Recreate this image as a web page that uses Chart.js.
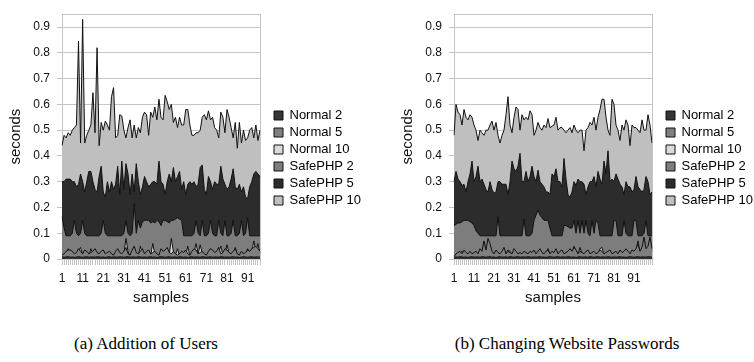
<!DOCTYPE html>
<html>
<head>
<meta charset="utf-8">
<script src="https://cdn.jsdelivr.net/npm/chart.js@4/dist/chart.umd.min.js"></script>
<style>
  html, body { margin: 0; padding: 0; background: #fff; }
  #wrap { position: relative; width: 754px; height: 362px; overflow: hidden; background: #fff; }
  canvas { position: absolute; top: 0; }
  #cA { left: 0; }
  #cB { left: 392px; }
  .cap { position: absolute; top: 334px; font-family: "Liberation Serif", "Times New Roman", serif; font-size: 17px; line-height: 20px; color: #000; text-align: center; white-space: nowrap; }
  #capA { left: 0; width: 292px; }
  #capB { left: 392px; width: 350px; }
</style>
</head>
<body>
<div id="wrap">
  <canvas id="cA" width="390" height="312"></canvas>
  <canvas id="cB" width="362" height="312"></canvas>
  <div class="cap" id="capA">(a) Addition of Users</div>
  <div class="cap" id="capB">(b) Changing Website Passwords</div>
</div>
<script>
// ---------- series names ----------
const seriesNames = ['Normal 2', 'Normal 5', 'Normal 10', 'SafePHP 2', 'SafePHP 5', 'SafePHP 10'];
const yTicks = [0, 0.1, 0.2, 0.3, 0.4, 0.5, 0.6, 0.7, 0.8, 0.9];

// ---------- (a) Addition of Users : 97 samples ----------
const samplesA = Array.from({ length: 97 }, (_, i) => String(i + 1));
const normal2A = [0.008,0.007,0.008,0.009,0.007,0.008,0.006,0.008,0.009,0.008,
  0.007,0.008,0.009,0.007,0.008,0.008,0.007,0.009,0.008,0.007,
  0.008,0.006,0.008,0.009,0.007,0.008,0.008,0.007,0.009,0.008,
  0.007,0.008,0.009,0.007,0.008,0.008,0.007,0.009,0.008,0.007,
  0.008,0.007,0.008,0.009,0.007,0.008,0.006,0.008,0.009,0.008,
  0.007,0.008,0.009,0.007,0.008,0.008,0.007,0.009,0.008,0.007,
  0.008,0.006,0.008,0.009,0.007,0.008,0.008,0.007,0.009,0.008,
  0.007,0.008,0.009,0.007,0.008,0.008,0.007,0.009,0.008,0.007,
  0.008,0.007,0.008,0.009,0.007,0.008,0.006,0.008,0.009,0.008,
  0.007,0.008,0.009,0.007,0.008,0.008,0.007];
const normal5A = [0.015,0.02,0.03,0.035,0.035,0.03,0.02,0.025,0.04,0.03,
  0.02,0.035,0.03,0.02,0.025,0.03,0.04,0.025,0.02,0.03,
  0.035,0.02,0.025,0.03,0.02,0.015,0.03,0.04,0.025,0.02,
  0.03,0.045,0.02,0.015,0.035,0.05,0.025,0.02,0.03,0.04,
  0.02,0.03,0.035,0.02,0.025,0.03,0.02,0.015,0.04,0.03,
  0.035,0.045,0.025,0.02,0.03,0.02,0.015,0.02,0.03,0.025,
  0.035,0.02,0.015,0.03,0.04,0.035,0.02,0.025,0.03,0.02,
  0.015,0.03,0.04,0.035,0.025,0.03,0.045,0.02,0.025,0.04,
  0.035,0.025,0.02,0.03,0.04,0.02,0.015,0.03,0.02,0.025,
  0.035,0.03,0.04,0.045,0.05,0.04,0.03];
const normal10A = [0.01,0.015,0.02,0.04,0.02,0.015,0.01,0.02,0.03,0.045,
  0.015,0.02,0.015,0.01,0.04,0.02,0.015,0.01,0.02,0.02,
  0.035,0.015,0.01,0.02,0.015,0.01,0.02,0.025,0.015,0.01,
  0.02,0.08,0.03,0.01,0.02,0.03,0.015,0.01,0.05,0.02,
  0.015,0.02,0.025,0.015,0.06,0.02,0.01,0.01,0.02,0.015,
  0.02,0.03,0.015,0.08,0.03,0.015,0.04,0.01,0.015,0.02,
  0.015,0.05,0.01,0.02,0.025,0.06,0.02,0.055,0.02,0.015,
  0.01,0.02,0.04,0.02,0.015,0.02,0.025,0.05,0.015,0.02,
  0.055,0.02,0.01,0.02,0.045,0.015,0.01,0.02,0.015,0.02,
  0.04,0.02,0.03,0.07,0.03,0.06,0.02];
const safe2A = [0.165,0.12,0.09,0.09,0.09,0.1,0.15,0.1,0.09,0.1,
  0.15,0.1,0.09,0.09,0.09,0.09,0.09,0.09,0.09,0.1,
  0.15,0.1,0.09,0.09,0.09,0.09,0.09,0.09,0.09,0.09,
  0.1,0.15,0.1,0.09,0.1,0.215,0.1,0.15,0.12,0.145,
  0.15,0.15,0.15,0.14,0.145,0.14,0.15,0.145,0.13,0.15,
  0.15,0.145,0.14,0.15,0.15,0.155,0.16,0.155,0.15,0.09,
  0.09,0.09,0.09,0.09,0.1,0.15,0.1,0.09,0.15,0.09,
  0.09,0.1,0.15,0.1,0.09,0.09,0.15,0.1,0.09,0.15,
  0.09,0.09,0.1,0.15,0.09,0.09,0.1,0.15,0.09,0.1,
  0.16,0.09,0.09,0.09,0.09,0.09,0.09];
const safe5A = [0.3,0.3,0.31,0.31,0.31,0.3,0.3,0.28,0.29,0.33,
  0.3,0.26,0.3,0.34,0.34,0.3,0.27,0.26,0.32,0.36,
  0.26,0.24,0.3,0.26,0.3,0.27,0.29,0.36,0.25,0.38,
  0.27,0.37,0.33,0.25,0.33,0.26,0.37,0.3,0.25,0.28,
  0.32,0.3,0.28,0.29,0.3,0.3,0.29,0.38,0.3,0.29,
  0.25,0.3,0.33,0.3,0.355,0.3,0.32,0.34,0.27,0.3,
  0.25,0.29,0.3,0.29,0.3,0.28,0.29,0.355,0.365,0.27,
  0.25,0.32,0.3,0.27,0.3,0.29,0.29,0.36,0.31,0.29,
  0.27,0.28,0.31,0.35,0.28,0.27,0.29,0.26,0.28,0.24,
  0.235,0.28,0.3,0.33,0.34,0.33,0.32];
const safe10A = [0.44,0.48,0.47,0.49,0.48,0.5,0.51,0.52,0.845,0.45,
  0.93,0.45,0.48,0.5,0.52,0.645,0.49,0.82,0.44,0.53,
  0.5,0.535,0.52,0.5,0.63,0.665,0.47,0.48,0.56,0.555,
  0.5,0.47,0.51,0.54,0.47,0.52,0.47,0.51,0.49,0.55,
  0.57,0.56,0.48,0.57,0.55,0.59,0.54,0.62,0.55,0.54,
  0.635,0.61,0.58,0.6,0.53,0.55,0.51,0.55,0.52,0.52,
  0.58,0.58,0.52,0.48,0.48,0.49,0.49,0.5,0.55,0.56,
  0.54,0.575,0.54,0.55,0.51,0.5,0.47,0.57,0.55,0.49,
  0.58,0.55,0.51,0.47,0.53,0.43,0.53,0.45,0.5,0.46,
  0.47,0.5,0.51,0.47,0.52,0.46,0.5];

// ---------- (b) Changing Website Passwords : 100 samples ----------
const samplesB = Array.from({ length: 100 }, (_, i) => String(i + 1));
const normal2B = [0.007,0.008,0.007,0.009,0.008,0.007,0.008,0.006,0.008,0.009,
  0.007,0.008,0.008,0.007,0.009,0.008,0.007,0.008,0.009,0.007,
  0.008,0.006,0.008,0.009,0.007,0.008,0.008,0.007,0.009,0.008,
  0.007,0.008,0.009,0.007,0.008,0.008,0.007,0.009,0.008,0.007,
  0.008,0.007,0.008,0.009,0.007,0.008,0.006,0.008,0.009,0.008,
  0.007,0.008,0.009,0.007,0.008,0.008,0.007,0.009,0.008,0.007,
  0.008,0.006,0.008,0.009,0.007,0.008,0.008,0.007,0.009,0.008,
  0.007,0.008,0.009,0.007,0.008,0.008,0.007,0.009,0.008,0.007,
  0.008,0.007,0.008,0.009,0.007,0.008,0.006,0.008,0.009,0.008,
  0.007,0.008,0.009,0.007,0.008,0.008,0.007,0.009,0.008,0.007];
const normal5B = [0.01,0.02,0.025,0.03,0.02,0.035,0.025,0.02,0.03,0.02,
  0.025,0.03,0.02,0.04,0.03,0.07,0.035,0.08,0.06,0.03,
  0.02,0.035,0.025,0.02,0.03,0.045,0.02,0.03,0.025,0.02,
  0.04,0.03,0.02,0.025,0.02,0.03,0.025,0.02,0.03,
  0.025,0.035,0.02,0.03,0.04,0.025,0.02,0.03,0.035,0.02,
  0.03,0.025,0.04,0.02,0.03,0.035,0.02,0.025,0.03,0.04,
  0.03,0.045,0.035,0.02,0.03,0.025,0.02,0.03,0.035,
  0.02,0.025,0.03,0.02,0.025,0.035,0.03,0.02,0.025,0.03,
  0.035,0.02,0.025,0.03,0.02,0.035,0.025,0.03,0.04,0.03,
  0.02,0.035,0.03,0.04,0.06,0.03,0.045,0.085,0.04,0.05,
  0.085,0.04];
const normal10B = [0.005,0.015,0.02,0.02,0.03,0.015,0.02,0.015,0.02,0.015,
  0.02,0.02,0.015,0.025,0.02,0.065,0.02,0.06,0.03,0.02,
  0.015,0.02,0.02,0.015,0.02,0.025,0.02,0.035,0.03,0.015,
  0.03,0.02,0.015,0.02,0.015,0.02,0.015,0.02,0.02,
  0.02,0.025,0.015,0.02,0.025,0.02,0.015,0.02,0.04,0.02,
  0.02,0.02,0.03,0.015,0.02,0.025,0.015,0.02,0.025,0.03,
  0.02,0.05,0.03,0.015,0.045,0.02,0.015,0.025,0.02,
  0.015,0.02,0.02,0.015,0.02,0.04,0.045,0.015,0.02,0.025,
  0.02,0.015,0.02,0.025,0.015,0.02,0.02,0.025,0.03,0.02,
  0.015,0.02,0.025,0.03,0.07,0.02,0.03,0.08,0.03,0.04,
  0.08,0.03];
const safe2B = [0.13,0.135,0.14,0.14,0.145,0.15,0.15,0.15,0.145,0.14,
  0.13,0.11,0.1,0.09,0.09,0.09,0.09,0.09,0.09,0.09,
  0.09,0.09,0.165,0.09,0.09,0.09,0.09,0.09,0.09,0.09,
  0.09,0.09,0.09,0.09,0.09,0.155,0.09,0.09,0.09,
  0.1,0.15,0.17,0.19,0.17,0.16,0.15,0.15,0.15,0.12,
  0.09,0.09,0.09,0.09,0.09,0.09,0.13,0.13,0.125,0.12,
  0.12,0.15,0.1,0.15,0.1,0.15,0.1,0.15,0.1,
  0.09,0.15,0.1,0.15,0.14,0.09,0.09,0.09,0.09,0.09,
  0.09,0.09,0.15,0.15,0.09,0.09,0.09,0.15,0.1,0.09,
  0.09,0.09,0.15,0.15,0.09,0.09,0.09,0.1,0.15,0.09,
  0.09,0.09];
const safe5B = [0.3,0.34,0.31,0.3,0.285,0.29,0.26,0.3,0.33,0.38,
  0.3,0.32,0.36,0.3,0.31,0.29,0.27,0.26,0.3,0.27,
  0.255,0.26,0.3,0.3,0.29,0.29,0.29,0.25,0.3,0.38,
  0.35,0.34,0.36,0.41,0.3,0.3,0.34,0.3,0.32,
  0.36,0.32,0.3,0.345,0.3,0.29,0.28,0.26,0.26,0.25,
  0.33,0.32,0.35,0.3,0.3,0.28,0.39,0.31,0.25,0.24,
  0.26,0.3,0.285,0.31,0.3,0.3,0.29,0.25,0.28,
  0.3,0.3,0.32,0.28,0.34,0.31,0.29,0.38,0.33,0.42,
  0.3,0.31,0.3,0.33,0.31,0.29,0.28,0.25,0.3,0.28,
  0.28,0.26,0.27,0.32,0.28,0.27,0.26,0.27,0.32,0.3,
  0.25,0.26];
const safe10B = [0.48,0.6,0.57,0.56,0.52,0.58,0.55,0.54,0.56,0.55,
  0.52,0.5,0.46,0.5,0.49,0.48,0.5,0.5,0.52,0.535,
  0.5,0.53,0.48,0.45,0.48,0.5,0.56,0.63,0.52,0.49,
  0.55,0.59,0.58,0.5,0.56,0.54,0.55,0.54,0.575,
  0.56,0.48,0.5,0.53,0.51,0.5,0.52,0.51,0.545,0.51,
  0.515,0.52,0.55,0.5,0.51,0.51,0.5,0.49,0.5,0.51,
  0.49,0.52,0.5,0.49,0.5,0.5,0.42,0.5,0.51,
  0.53,0.52,0.55,0.5,0.55,0.58,0.62,0.62,0.55,0.5,
  0.48,0.62,0.6,0.52,0.5,0.46,0.52,0.5,0.54,0.52,
  0.44,0.52,0.51,0.51,0.5,0.49,0.54,0.5,0.5,0.56,
  0.52,0.45];

// ---------- styling ----------
const fills = ['#343434', '#7f7f7f', '#dadada', '#7d7d7d', '#2c2c2c', '#bfbfbf'];
const gridColor = '#c4c4c4';
const sansFont = '"Liberation Sans", Arial, sans-serif';
const plotRight = 260;   // right edge of the plot area inside each canvas

const framePlugin = {
  id: 'frame',
  beforeDatasetsDraw(chart) {
    const a = chart.chartArea, c = chart.ctx;
    c.save();
    c.strokeStyle = gridColor;
    c.lineWidth = 1;
    c.strokeRect(Math.round(a.left) + 0.5, Math.round(a.top) + 0.5, Math.round(a.right - a.left), Math.round(a.bottom - a.top));
    c.restore();
  }
};
const legendGap = {
  id: 'legendGap',
  afterLayout(chart) {
    const lg = chart.legend;
    if (!lg) return;
    const pad = lg.options.labels.padding;
    const dx = chart.chartArea.right + 14 - (lg.left + pad);
    lg.left += dx; lg.right += dx;
  }
};

function makeChart(id, labels, series) {
  const canvas = document.getElementById(id);
  const datasets = seriesNames.map((name, k) => ({
    label: name,
    data: series[k],
    backgroundColor: fills[k],
    borderColor: '#111',
    borderWidth: 1,
    fill: 'origin',
    pointRadius: 0,
    tension: 0
  }));
  const chart = new Chart(canvas, {
    type: 'line',
    data: { labels, datasets },
    options: {
      responsive: false,
      animation: false,
      devicePixelRatio: 1,
      events: [],
      layout: { padding: { top: 4, left: 0, bottom: 0, right: 10 } },
      plugins: {
        tooltip: { enabled: false },
        legend: {
          position: 'right',
          align: 'center',
          maxWidth: 200,
          labels: { boxWidth: 9, boxHeight: 9, padding: 4, color: '#000', font: { family: sansFont, size: 13 } }
        }
      },
      scales: {
        x: {
          offset: false,
          grid: { drawOnChartArea: false, tickLength: 6, color: gridColor },
          border: { color: gridColor },
          ticks: {
            autoSkip: false, maxRotation: 0, minRotation: 0, padding: 6, color: '#111',
            font: { family: sansFont, size: 12 },
            callback: (v, i) => (i % 10 === 0 ? labels[i] : '')
          },
          title: { display: true, text: 'samples', color: '#111', font: { family: sansFont, size: 15 }, padding: { top: 0, bottom: 5 } },
          afterFit(s) { s.height = 53; }
        },
        y: {
          min: 0, max: 0.95,
          afterBuildTicks(s) { s.ticks = yTicks.map(v => ({ value: v })); },
          grid: { color: gridColor, tickLength: 5 },
          border: { color: gridColor },
          ticks: { padding: 7, color: '#111', font: { family: sansFont, size: 12 }, callback: v => String(Math.round(v * 10) / 10) },
          title: { display: true, text: 'seconds', color: '#111', font: { family: sansFont, size: 15 }, padding: { top: 7, bottom: 0 } },
          afterFit(s) { s.width = 62; }
        }
      }
    },
    plugins: [framePlugin, legendGap]
  });
  // make the plot area end at the same place in both canvases
  const diff = chart.chartArea.right - plotRight;
  if (Math.abs(diff) > 0.5) {
    chart.config.options.layout.padding.right += diff;
    chart.update();
  }
  return chart;
}

makeChart('cA', samplesA, [normal2A, normal5A, normal10A, safe2A, safe5A, safe10A]);
makeChart('cB', samplesB, [normal2B, normal5B, normal10B, safe2B, safe5B, safe10B]);
</script>
</body>
</html>
